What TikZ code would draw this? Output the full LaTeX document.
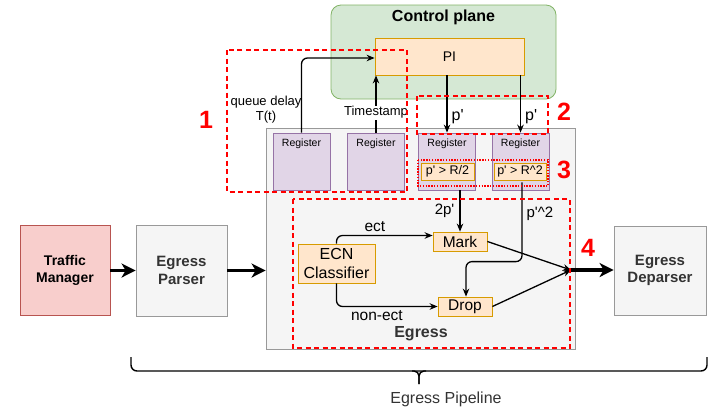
\documentclass[tikz,border=0pt]{standalone}
\usepackage{fontspec}
\setmainfont{Liberation Sans}
\usetikzlibrary{positioning,calc,arrows.meta}

\definecolor{cpfill}{HTML}{D5E8D4}
\definecolor{cpline}{HTML}{82B366}
\definecolor{opfill}{HTML}{FFE6CC}
\definecolor{opline}{HTML}{D79B00}
\definecolor{rgfill}{HTML}{E1D5E7}
\definecolor{rgline}{HTML}{9673A6}
\definecolor{tmfill}{HTML}{F8CECC}
\definecolor{tmline}{HTML}{B85450}
\definecolor{gfill}{HTML}{F5F5F5}
\definecolor{gline}{HTML}{999999}
\definecolor{gtext}{HTML}{333333}
\definecolor{mark}{HTML}{FF0000}

\newcommand{\fsz}[2]{\fontsize{#1}{#2}\selectfont}
\newcommand{\pq}{p\textquotesingle}

\begin{document}
\begin{tikzpicture}[x=1pt,y=-1pt,
    blk/.style={draw, inner sep=0pt, line width=0.8pt},
    opbox/.style={blk, draw=opline, fill=opfill},
    regbox/.style={blk, draw=rgline, fill=rgfill, minimum width=57pt, minimum height=57pt,
      label={[font=\fsz{10.5}{12}, anchor=north, yshift=-3pt]north:Register}},
    greybox/.style={blk, draw=gline, fill=gfill, text=gtext},
    flow/.style={line width=1.3pt, -{Stealth[length=8pt,width=6.5pt]}},
    bigflow/.style={line width=3.8pt, -{Stealth[length=14pt,width=14pt,inset=4pt]}},
    redbox/.style={draw=mark, line width=1.4pt, dash pattern=on 5pt off 3.5pt},
    reddot/.style={draw=mark, line width=1.4pt, dash pattern=on 1.4pt off 1.4pt},
    rednum/.style={text=mark, font=\bfseries\fsz{25}{28}},
    txt/.style={font=\fsz{13}{15}}]
  \useasboundingbox (0,0) rectangle (727,408);

  % control plane
  \node[blk, draw=cpline, fill=cpfill, rounded corners=10pt,
    minimum width=225pt, minimum height=94pt] (ctrl) at (443.5,52) {};
  \node[font=\bfseries\fsz{16}{19}] (ctrltitle) at (443.5,17) {Control plane};
  \node[opbox, minimum width=149pt, minimum height=37pt, font=\fsz{14}{17}] (pi) at (449.5,56.5) {PI};

  % egress block
  \node[greybox, minimum width=309pt, minimum height=221pt] (egress) at (420.5,238.5) {};
  \node[font=\bfseries\fsz{16}{19}, text=gtext] (egtitle) at (421,334) {Egress};

  \foreach \n/\x in {1/301.5,2/376,3/447,4/520.5}
    \node[regbox] (reg\n) at (\x,161.5) {};

  \node[opbox, minimum width=53pt, minimum height=17pt, font=\fsz{12.5}{15}] (cmp1) at (447.5,171.5) {\pq{} > R/2};
  \node[opbox, minimum width=52pt, minimum height=17pt, font=\fsz{12.5}{15}] (cmp2) at (520,171.5) {\pq{} > R\textasciicircum 2};

  \node[opbox, minimum width=77pt, minimum height=39pt, align=center, font=\fsz{16}{19}] (ecn) at (336.5,263.5) {ECN\\Classifier};
  \node[opbox, minimum width=54pt, minimum height=19pt, font=\fsz{15.5}{18}] (mrk) at (460,241.5) {Mark};
  \node[opbox, minimum width=54pt, minimum height=19pt, font=\fsz{15.5}{18}] (drop) at (465,306.5) {Drop};
  \coordinate (mrg) at (571,270);

  % outer stages
  \node[blk, draw=tmline, fill=tmfill, minimum width=90pt, minimum height=90pt, align=center,
    font=\bfseries\fsz{14}{17}] (tm) at (65,270) {Traffic\\Manager};
  \node[greybox, minimum width=91pt, minimum height=91pt, align=center,
    font=\bfseries\fsz{15}{17.5}] (ep) at (181.5,270.5) {Egress\\Parser};
  \node[greybox, minimum width=92pt, minimum height=89pt, align=center,
    font=\bfseries\fsz{15}{17.5}] (ed) at (660,270.5) {Egress\\Deparser};

  \draw[bigflow] (tm.east |- ep) -- (ep.west);
  \draw[bigflow] (ep.east) -- (ep.east -| egress.west);
  \draw[bigflow] (mrg) -- (mrg -| ed.west);

  % to and from the controller
  \draw[flow, rounded corners=6pt] (reg1.north) |- ([yshift=-1.5pt]pi.west);
  \node[txt, align=center] (qd) at (266,110) {queue delay\\T(t)};
  \draw[flow] (reg2.north) -- (reg2.north |- pi.south)
    node[txt, pos=0.35, fill=white, inner sep=1pt] {Timestamp};
  \draw[flow] (pi.south -| reg3.north) -- (reg3.north)
    node[font=\fsz{16}{19}, pos=0.72, right, inner sep=4pt] {\pq};
  \draw[flow] (pi.south -| reg4.north) -- (reg4.north)
    node[font=\fsz{16}{19}, pos=0.72, right, inner sep=4pt] {\pq};

  % data path
  \draw[flow] (mrk.north |- reg3.south) -- (mrk.north)
    node[font=\fsz{15}{18}, pos=0.5, left, inner sep=5pt] {2\pq};
  \draw[flow, rounded corners=6pt] ([xshift=2pt,yshift=-2pt]cmp2.south)
    |- node[font=\fsz{15}{18}, pos=0.2, right, inner sep=4pt] {\pq\textasciicircum 2}
    ([xshift=1pt,yshift=35pt]drop.north) -- ([xshift=1pt]drop.north);
  \draw[flow, rounded corners=6pt] (ecn.north)
    |- node[font=\fsz{15.5}{18}, pos=0.7, above, inner sep=3pt] {ect} ([yshift=6pt]mrk.west);
  \draw[flow, rounded corners=6pt] (ecn.south)
    |- node[font=\fsz{15.5}{18}, pos=0.7, below, inner sep=3pt] {non-ect} (drop.west);
  \draw[flow] (mrk.east) -- (mrg);
  \draw[flow] (drop.east) -- (mrg);

  % numbered areas
  \draw[redbox] (227,50) rectangle (407,192);
  \draw[redbox] (417,96) rectangle (548,134);
  \draw[reddot] (418,160) rectangle (548,186);
  \draw[redbox] (293,199) rectangle (570,348);
  \node[rednum] (n1) at (206,120) {1};
  \node[rednum] (n2) at (564,112) {2};
  \node[rednum] (n3) at (564,170) {3};
  \node[rednum] (n4) at (588,248) {4};

  % pipeline brace
  \coordinate (brl) at (131,357);
  \coordinate (brr) at (707,357);
  \coordinate (brmid) at (419,371);
  \coordinate (brtip) at (419,384);
  \draw[line width=1.4pt, rounded corners=6pt]
    (brl) |- (brmid) -| (brr);
  \draw[line width=1.4pt, rounded corners=5pt]
    ([xshift=-7pt]brmid) -| (brtip);
  \draw[line width=1.4pt, rounded corners=5pt]
    ([xshift=7pt]brmid) -| (brtip);
  \node[font=\fsz{16}{19}, text=gtext] (pipe) at (446,399) {Egress Pipeline};
\end{tikzpicture}
\end{document}
